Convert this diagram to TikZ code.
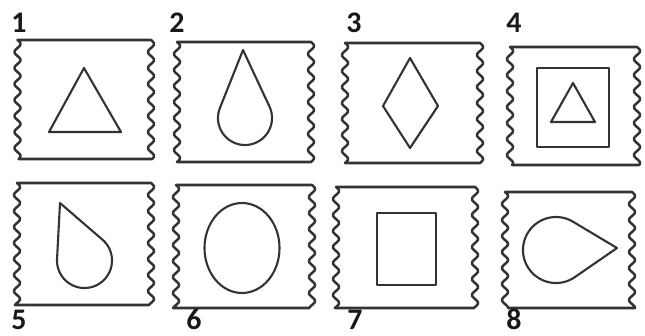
\documentclass[tikz,border=0pt]{standalone}
\usepackage{fontspec}
\setmainfont{Carlito}
\newcommand\tileshape[4]{% xl xr yt yb
  \draw[tileline] (#1,#3) -- (#2,#3)
    -- plot[domain=#3:#4,samples=120] ({#2+3*sin(22.5*(\x-#3))},\x)
    -- plot[domain=#4:#3,samples=120] ({#1+3*sin(22.5*(\x-#3))},\x)
    -- cycle;
}
\newcommand\dropshape[5]{% cx cy r ax ay
  \pgfmathsetmacro\dd{veclen(#4-#1,#5-#2)}
  \pgfmathsetmacro\aa{atan2(#5-#2,#4-#1)}
  \pgfmathsetmacro\ph{acos(#3/\dd)}
  \pgfmathsetmacro\sa{\aa+\ph}
  \pgfmathsetmacro\ea{\aa+360-\ph}
  \draw[shapeline] (#4,#5) -- plot[domain=\sa:\ea,samples=90] ({#1+#3*cos(\x)},{#2+#3*sin(\x)}) -- cycle;
}
\begin{document}
\begin{tikzpicture}[x=0.02cm,y=-0.02cm,
  tileline/.style={draw=black!80,line width=1.45pt,line join=round},
  shapeline/.style={draw=black!80,line width=1.2pt,line join=round},
  num/.style={font=\fontsize{17}{20}\selectfont\bfseries,inner sep=0pt,text depth=0pt,anchor=base west,text=black!90}]
\useasboundingbox (0,0) rectangle (645,335);
% tiles
\tileshape{17.5}{151}{40}{159}
\tileshape{177}{311}{42}{162}
\tileshape{345}{480}{43}{163}
\tileshape{510}{637}{47}{165}
\tileshape{17}{151}{183}{305}
\tileshape{176}{312}{185}{308}
\tileshape{336}{475}{187}{308}
\tileshape{505}{632}{192}{308}
% inner shapes
\draw[shapeline] (84,68) -- (121,132) -- (49,132) -- cycle;
\dropshape{245}{118}{27}{243}{50}
\draw[shapeline] (410,58) -- (438,106) -- (410,148) -- (383,106) -- cycle;
\draw[shapeline] (537,68) rectangle (609,147);
\draw[shapeline] (573,83) -- (595,122) -- (551,122) -- cycle;
\dropshape{84.5}{260.5}{27.5}{60}{203}
\draw[shapeline] (242,248) ellipse [x radius=37.5,y radius=45];
\draw[shapeline] (377,213) rectangle (436,285);
\dropshape{556}{250}{33}{617}{248}
% labels
\node[num] (n1) at (11,32) {1};
\node[num] (n2) at (169,32) {2};
\node[num] (n3) at (346,32) {3};
\node[num] (n4) at (506,32) {4};
\node[num] (n5) at (11,329) {5};
\node[num] (n6) at (186,329) {6};
\node[num] (n7) at (347,329) {7};
\node[num] (n8) at (506,329) {8};
\end{tikzpicture}
\end{document}
